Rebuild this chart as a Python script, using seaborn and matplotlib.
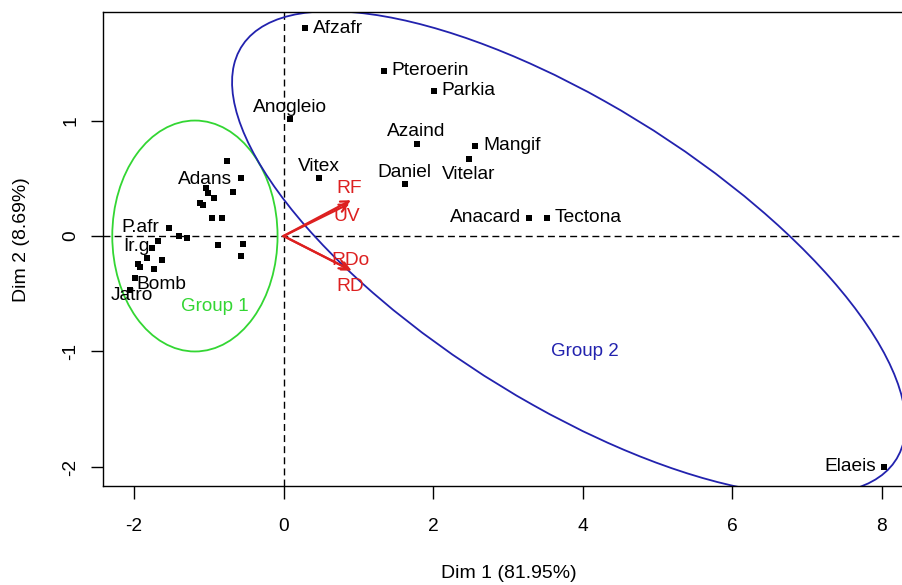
import matplotlib
matplotlib.use("Agg")
import matplotlib.pyplot as plt
from matplotlib.patches import Ellipse
import seaborn as sns
import pandas as pd

# ---------------- data ----------------
ind_names = ["Afzafr", "Pteroerin", "Parkia", "Anogleio", "Azaind", "Mangif",
             "Vitelar", "Daniel", "Vitex", "Anacard", "Tectona", "Elaeis",
             "Adans", "P.afr", "Ir.g", "Bomb", "Jatro",
             "", "", "", "", "", "", "", "", "", "", "", "", "", "", "", "", "", "", "", ""]
ind_x = [0.29, 1.34, 2.01, 0.09, 1.78, 2.56,
         2.48, 1.62, 0.47, 3.28, 3.52, 8.03,
         -1.04, -1.53, -1.76, -1.99, -2.05,
         -0.76, -0.57, -0.68, -1.01, -0.93, -1.12, -1.08, -0.96, -0.82, -1.40,
         -1.29, -1.68, -0.88, -0.54, -0.57, -1.83, -1.63, -1.95, -1.92, -1.73]
ind_y = [1.80, 1.43, 1.26, 1.01, 0.80, 0.78,
         0.67, 0.45, 0.50, 0.16, 0.16, -2.00,
         0.42, 0.07, -0.10, -0.36, -0.47,
         0.65, 0.50, 0.38, 0.37, 0.33, 0.29, 0.27, 0.16, 0.16, 0.00,
         -0.02, -0.04, -0.08, -0.07, -0.17, -0.19, -0.21, -0.24, -0.27, -0.29]

var_names = ["RF", "UV", "RDo", "RD"]
var_x = [0.90, 0.88, 0.88, 0.91]
var_y = [0.31, 0.28, -0.29, -0.30]

group_names = ["Group 1", "Group 2"]
group_cx = [-1.185, 3.815]
group_cy = [0.0, -0.148]
group_w = [2.21, 9.53]
group_h = [2.00, 2.80]
group_angle = [0.0, -20.0]
group_label_x = [-0.92, 4.03]
group_label_y = [-0.61, -1.00]

x_label = "Dim 1 (81.95%)"
y_label = "Dim 2 (8.69%)"
x_ticks = [-2, 0, 2, 4, 6, 8]
y_ticks = [-2, -1, 0, 1]

# ---------------- layout / style ----------------
label_place = {  # dx, dy (pixels), ha
    "Afzafr": (8, 0, "left"), "Pteroerin": (8, 0, "left"), "Parkia": (8, 0, "left"),
    "Anogleio": (0, 12, "center"), "Azaind": (0, 12, "center"), "Mangif": (8, 0, "left"),
    "Vitelar": (0, -16, "center"), "Daniel": (0, 12, "center"), "Vitex": (0, 12, "center"),
    "Anacard": (-8, 0, "right"), "Tectona": (8, 0, "left"), "Elaeis": (-8, 0, "right"),
    "Adans": (-1, 8, "center"), "P.afr": (-29, 0, "center"), "Ir.g": (-15, 1, "center"),
    "Bomb": (27, -7, "center"), "Jatro": (2, -5, "center"),
}
var_place = {"RF": (-2, 12), "UV": (-3, -13), "RDo": (1, 9), "RD": (-1, -16)}
group_colors = ["#33D633", "#2222AE"]
red = "#DD2020"

sns.set_theme(style="ticks")
plt.rcParams["font.family"] = ["Liberation Sans", "DejaVu Sans"]

fig = plt.figure(figsize=(9.02, 5.85), dpi=100)
ax = fig.add_axes([103 / 902, 1 - 486 / 585, 799 / 902, 474 / 585])

df = pd.DataFrame({"x": ind_x, "y": ind_y, "name": ind_names})
sns.scatterplot(data=df, x="x", y="y", marker="s", s=16, color="black",
                linewidth=0, ax=ax, zorder=4)

ax.axhline(0, color="black", lw=1, ls=(0, (5, 3)), zorder=1)
ax.axvline(0, color="black", lw=1, ls=(0, (5, 3)), zorder=1)

for i in range(len(group_names)):
    ax.add_patch(Ellipse((group_cx[i], group_cy[i]), group_w[i], group_h[i],
                         angle=group_angle[i], fill=False, ec=group_colors[i],
                         lw=1.3, zorder=2))
    ax.text(group_label_x[i], group_label_y[i], group_names[i], color=group_colors[i],
            fontsize=13.5, ha="center", va="center", zorder=5)

for n, x, y in zip(ind_names, ind_x, ind_y):
    if n:
        dx, dy, ha = label_place[n]
        ax.annotate(n, (x, y), xytext=(dx, dy), textcoords="offset pixels",
                    ha=ha, va="center", fontsize=13.8, color="black", zorder=6)

for n, x, y in zip(var_names, var_x, var_y):
    ax.annotate("", xy=(x, y), xytext=(0, 0),
                arrowprops=dict(arrowstyle="->", color=red, lw=1.6,
                                shrinkA=0, shrinkB=0, mutation_scale=14), zorder=5)
    dx, dy = var_place[n]
    ax.annotate(n, (x, y), xytext=(dx, dy), textcoords="offset pixels",
                ha="center", va="center", fontsize=13.8, color=red, zorder=6)

ax.set_xlim(-2.414, 8.27)
ax.set_ylim(-2.165, 1.94)
ax.set_xticks(x_ticks)
ax.set_yticks(y_ticks)
ax.set_xticklabels([str(t) for t in x_ticks])
ax.set_yticklabels([str(t) for t in y_ticks])
ax.tick_params(axis="both", direction="out", length=9, width=1, labelsize=13.8,
               color="black", labelcolor="black")
ax.tick_params(axis="x", pad=14)
ax.tick_params(axis="y", pad=8, labelrotation=90)
for lab in ax.get_yticklabels():
    lab.set_va("center")

for side in ["left", "bottom", "top"]:
    ax.spines[side].set_color("black")
    ax.spines[side].set_linewidth(1.0)
ax.spines["right"].set_visible(False)

ax.set_xlabel(x_label, fontsize=14, color="black")
ax.set_ylabel(y_label, fontsize=14, color="black")
ax.xaxis.set_label_coords(0.508, -0.184)
ax.xaxis.label.set_va("center")
ax.yaxis.set_label_coords(-0.1026, 0.519)
ax.yaxis.label.set_va("center")

fig.savefig("out.png", dpi=100)
